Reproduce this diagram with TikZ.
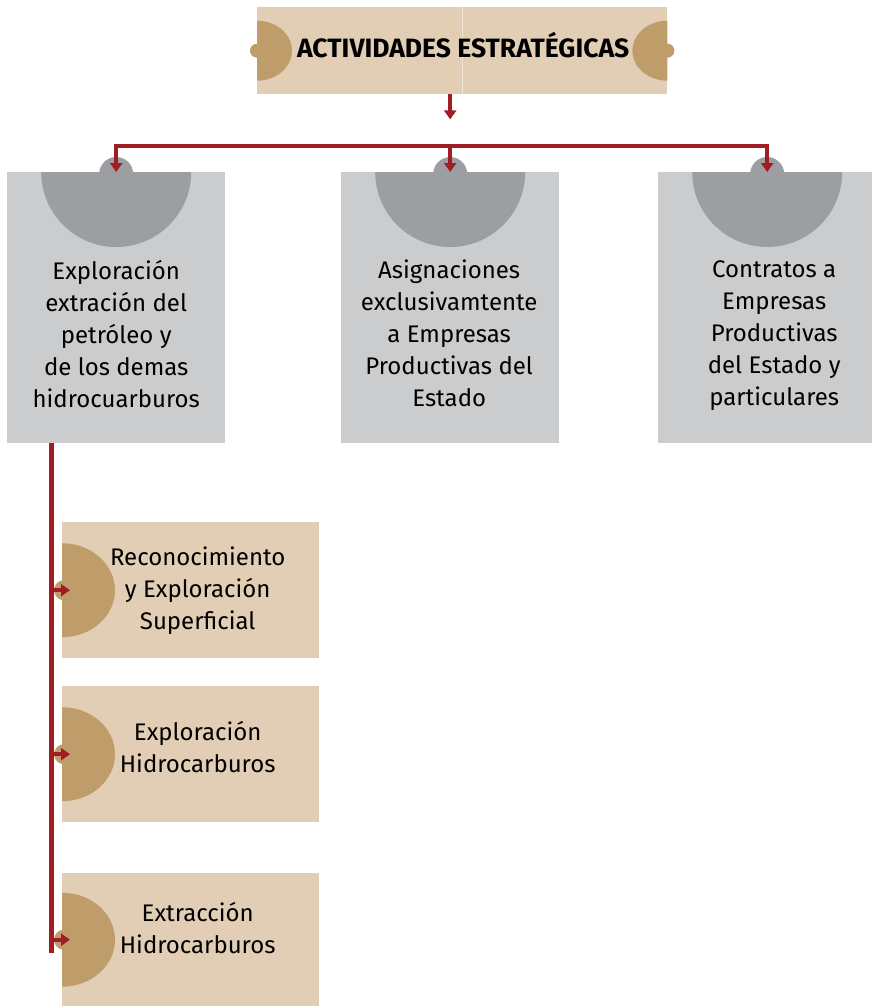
\documentclass[tikz,border=0pt]{standalone}
\usepackage{fontspec}
\setmainfont{Fira Sans}
\usepackage{tikz}
\usetikzlibrary{positioning,arrows.meta}
\definecolor{tanlight}{HTML}{E2CEB4}
\definecolor{tandark}{HTML}{BE9D6B}
\definecolor{graylight}{HTML}{CBCCCE}
\definecolor{graydark}{HTML}{9D9EA2}
\definecolor{wine}{HTML}{A21C24}

\begin{document}
\begin{tikzpicture}[x=1pt,y=-1pt,
box/.style={draw=none, inner sep=0pt, anchor=north west},
tanbox/.style={box, fill=tanlight, minimum width=257pt, minimum height=136pt},
graybox/.style={box, fill=graylight, minimum width=218pt, minimum height=271pt},
label/.style={align=center, font=\fontsize{24}{32}\selectfont, inner sep=0pt},
link/.style={draw=wine, line width=4pt},
arrow/.style={link, -{Triangle[width=12pt,length=9pt]}}]
\useasboundingbox (0,0) rectangle (872,1006);

% title
\node[box, fill=tanlight, minimum width=410pt, minimum height=87pt] (title) at (257,7) {};
\draw[tanlight!55!white, line width=0.8pt] (title.north) -- (title.south);
\fill[tandark] ([yshift=30pt]title.west) arc[start angle=90, end angle=-90, x radius=35pt, y radius=30pt] -- cycle;
\fill[tandark] ([yshift=30pt]title.east) arc[start angle=90, end angle=270, x radius=35pt, y radius=30pt] -- cycle;
\fill[tandark] (title.west) circle[radius=7pt] (title.east) circle[radius=7pt];
\node[font=\bfseries\fontsize{26.5}{30}\selectfont] (titletext) at ([xshift=1pt,yshift=6pt]title.center) {ACTIVIDADES ESTRATÉGICAS};

% gray boxes
\node[graybox] (expl) at (7,172) {};
\node[graybox] (asig) at (341,172) {};
\node[graybox, minimum width=214pt] (contr) at (658,172) {};
\coordinate (expltop) at (expl.north);
\coordinate (asigtop) at (asig.north);
\coordinate (contrtop) at ([xshift=2pt]contr.north);
\foreach \b in {expltop,asigtop,contrtop}{
  \fill[graydark] ([xshift=-75pt]\b) arc[start angle=180, end angle=360, radius=75pt] -- cycle;
  \fill[graydark] ([yshift=-2pt]\b) circle[radius=17pt];
}
\node[label] (expltext) at ([yshift=-26pt]expl.center) {Exploración\\extración del\\petróleo y\\de los demas\\hidrocuarburos};
\node[label] (asigtext) at ([xshift=-1pt,yshift=-26pt]asig.center) {Asignaciones\\exclusivamtente\\a Empresas\\Productivas del\\Estado};
\node[label] (contrtext) at ([xshift=9pt,yshift=-28pt]contr.center) {Contratos a\\Empresas\\Productivas\\del Estado y\\particulares};

% tan boxes
\node[tanbox] (recon) at (62,522) {};
\node[tanbox] (explh) at (62,686) {};
\node[tanbox, minimum height=133pt] (extr) at (62,873) {};
\foreach \b in {recon,explh,extr}{
  \fill[tandark] ([yshift=47pt]\b.west) arc[start angle=90, end angle=-90, x radius=53pt, y radius=47pt] -- cycle;
  \fill[tandark] ([xshift=2pt]\b.west) circle[radius=10pt];
}
\node[label] (recontext) at ([xshift=7pt]recon.center) {Reconocimiento\\y Exploración\\Superficial};
\node[label] (explhtext) at ([xshift=7pt,yshift=7pt]explh.center) {Exploración\\Hidrocarburos};
\node[label] (extrtext) at ([xshift=7pt,yshift=12pt]extr.center) {Extracción\\Hidrocarburos};

% connectors
\coordinate (bus) at (0,146);
\draw[arrow] (asigtop |- title.south) -- ++(0,25);
\draw[link, line cap=rect] (expltop |- bus) -- (contrtop |- bus);
\foreach \b in {expltop,asigtop,contrtop}
  \draw[arrow] (\b |- bus) -- (\b);
\coordinate (trunk) at ([xshift=44pt]expl.south west);
\draw[link, line width=5pt] (trunk) -- ++(0,510);
\foreach \b in {recon,explh,extr}
  \draw[arrow] (trunk |- \b.west) -- ([xshift=8pt]\b.west);
\end{tikzpicture}
\end{document}
